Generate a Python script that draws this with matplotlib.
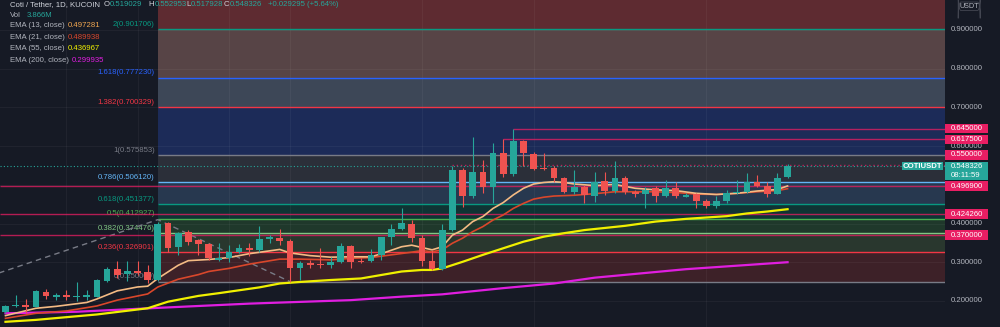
import matplotlib
matplotlib.use('Agg')
import matplotlib.pyplot as plt
import matplotlib.transforms as mtransforms
from matplotlib.patches import Rectangle, FancyBboxPatch

plt.rcParams['font.family'] = ['Liberation Sans', 'DejaVu Sans']

# --- datos: velas diarias COTI/USDT ---
opens = [0.172, 0.186, 0.189, 0.185, 0.223, 0.211, 0.214, 0.210, 0.211, 0.211,
         0.252, 0.282, 0.269, 0.278, 0.274, 0.254, 0.401, 0.340, 0.378, 0.357,
         0.346, 0.306, 0.310, 0.326, 0.338, 0.331, 0.359, 0.363, 0.356, 0.286,
         0.299, 0.295, 0.293, 0.300, 0.342, 0.304, 0.303, 0.319, 0.366, 0.385,
         0.400, 0.362, 0.303, 0.282, 0.383, 0.538, 0.472, 0.532, 0.495, 0.583,
         0.527, 0.613, 0.579, 0.544, 0.543, 0.517, 0.482, 0.495, 0.471, 0.511,
         0.485, 0.518, 0.481, 0.476, 0.491, 0.471, 0.493, 0.469, 0.476, 0.458,
         0.446, 0.459, 0.478, 0.482, 0.508, 0.498, 0.476, 0.519029]
highs = [0.190, 0.215, 0.204, 0.228, 0.230, 0.220, 0.228, 0.250, 0.228, 0.257,
         0.288, 0.302, 0.302, 0.302, 0.293, 0.405, 0.405, 0.378, 0.383, 0.360,
         0.350, 0.350, 0.344, 0.346, 0.349, 0.394, 0.370, 0.386, 0.360, 0.304,
         0.307, 0.337, 0.313, 0.349, 0.345, 0.310, 0.333, 0.366, 0.400, 0.439,
         0.408, 0.370, 0.332, 0.399, 0.549, 0.543, 0.623, 0.564, 0.607, 0.6175,
         0.645, 0.615, 0.586, 0.583, 0.549, 0.520, 0.538, 0.500, 0.532, 0.532,
         0.562, 0.523, 0.487, 0.494, 0.498, 0.512, 0.506, 0.480, 0.479, 0.463,
         0.471, 0.487, 0.512, 0.530, 0.525, 0.506, 0.530, 0.552953]
lows = [0.168, 0.184, 0.170, 0.183, 0.204, 0.202, 0.202, 0.200, 0.202, 0.209,
        0.250, 0.260, 0.252, 0.266, 0.246, 0.252, 0.327, 0.318, 0.345, 0.318,
        0.306, 0.302, 0.301, 0.323, 0.316, 0.327, 0.349, 0.345, 0.250, 0.254,
        0.286, 0.286, 0.286, 0.297, 0.284, 0.297, 0.301, 0.307, 0.345, 0.383,
        0.353, 0.291, 0.279, 0.279, 0.380, 0.442, 0.465, 0.480, 0.454, 0.521,
        0.524, 0.549, 0.538, 0.538, 0.508, 0.478, 0.476, 0.454, 0.456, 0.474,
        0.478, 0.476, 0.468, 0.439, 0.456, 0.468, 0.467, 0.468, 0.441, 0.439,
        0.439, 0.452, 0.476, 0.480, 0.495, 0.468, 0.475, 0.517928]
closes = [0.186, 0.189, 0.184, 0.226, 0.212, 0.216, 0.209, 0.212, 0.215, 0.255,
          0.282, 0.267, 0.278, 0.273, 0.254, 0.399, 0.337, 0.376, 0.353, 0.347,
          0.312, 0.312, 0.327, 0.338, 0.332, 0.360, 0.364, 0.355, 0.284, 0.299,
          0.293, 0.293, 0.301, 0.342, 0.301, 0.301, 0.318, 0.364, 0.385, 0.402,
          0.362, 0.304, 0.282, 0.383, 0.538, 0.472, 0.532, 0.495, 0.583, 0.528,
          0.613, 0.581, 0.541, 0.541, 0.517, 0.482, 0.494, 0.474, 0.508, 0.484,
          0.517, 0.481, 0.476, 0.487, 0.472, 0.493, 0.471, 0.473, 0.458, 0.446,
          0.459, 0.478, 0.482, 0.508, 0.498, 0.476, 0.517, 0.548326]

# medias móviles (índice de vela, valor)
ema13_idx = [0, 3, 5, 8, 9, 11, 13, 14, 15, 17, 18, 20, 22, 24, 27, 28, 30, 32, 34, 36,
             37, 38, 39, 40, 41, 42, 43, 44, 45, 46, 47, 48, 49, 50, 51, 52, 53, 54, 55,
             56, 57, 58, 60, 62, 64, 66, 68, 70, 72, 74, 76, 77]
ema13_val = [0.162, 0.181, 0.186, 0.196, 0.205, 0.226, 0.236, 0.238, 0.258, 0.292, 0.304,
             0.307, 0.312, 0.322, 0.333, 0.324, 0.317, 0.313, 0.314, 0.314, 0.322, 0.331,
             0.340, 0.344, 0.338, 0.332, 0.340, 0.370, 0.383, 0.405, 0.418, 0.439, 0.454,
             0.474, 0.491, 0.502, 0.506, 0.508, 0.506, 0.502, 0.500, 0.498, 0.501, 0.491,
             0.487, 0.485, 0.478, 0.475, 0.478, 0.484, 0.488, 0.497]
ema21_idx = [0, 3, 6, 9, 11, 14, 15, 17, 19, 20, 22, 24, 27, 29, 32, 34, 36, 38, 40, 41,
             42, 43, 44, 45, 46, 47, 48, 49, 50, 51, 52, 53, 54, 56, 58, 60, 62, 64, 66,
             68, 70, 72, 74, 76, 77]
ema21_val = [0.155, 0.168, 0.174, 0.187, 0.202, 0.218, 0.236, 0.256, 0.268, 0.276, 0.284,
             0.295, 0.308, 0.308, 0.306, 0.310, 0.312, 0.319, 0.326, 0.330, 0.327, 0.332,
             0.349, 0.362, 0.379, 0.392, 0.409, 0.422, 0.439, 0.452, 0.463, 0.468, 0.471,
             0.473, 0.477, 0.482, 0.482, 0.482, 0.480, 0.476, 0.475, 0.478, 0.482, 0.485,
             0.490]
ema55_idx = [0, 3, 6, 9, 14, 16, 19, 21, 25, 27, 29, 32, 35, 37, 39, 41, 42, 43, 45, 47,
             49, 51, 53, 55, 57, 61, 64, 67, 71, 73, 75, 77]
ema55_val = [0.146, 0.151, 0.158, 0.165, 0.181, 0.198, 0.213, 0.220, 0.235, 0.245, 0.249,
             0.254, 0.258, 0.267, 0.276, 0.280, 0.280, 0.284, 0.301, 0.319, 0.336, 0.353,
             0.366, 0.375, 0.383, 0.394, 0.405, 0.412, 0.419, 0.426, 0.431, 0.437]
ema200_idx = [0, 7, 15, 24, 34, 39, 43, 49, 54, 58, 67, 77]
ema200_val = [0.168, 0.172, 0.182, 0.193, 0.202, 0.211, 0.217, 0.233, 0.245, 0.260, 0.282,
              0.300]
ema_legend = ['0.497281', '0.489938', '0.436967', '0.299935']

# extensión de Fibonacci
fib_ratios = [0, 0.236, 0.382, 0.5, 0.618, 0.786, 1, 1.382, 1.618, 2]
fib_prices = [0.25, 0.326901, 0.374476, 0.412927, 0.451377, 0.50612, 0.575853,
              0.700329, 0.77723, 0.901706]
fib_start = 15
trend_idx = [-22, 15, 28]
trend_price = [0.084, 0.41, 0.25]

# líneas horizontales (rayos) y precio actual
ray_prices = [0.645, 0.6175, 0.55, 0.4969, 0.42426, 0.37]
ray_start = [50, 49, 44, None, None, None]
last_price = 0.548326
change_txt = '+0.029295 (+5.64%)'
volume_txt = '3.866M'
countdown = '08:11:59'
price_ticks = [0.2, 0.3, 0.4, 0.5, 0.6, 0.7, 0.8, 0.9]
time_grid = [6, 13, 22, 28, 41, 52, 69]   # velas con línea vertical de rejilla

# --- estilo ---
BG = '#161a25'
UP, DOWN = '#26a69a', '#ef5350'
PINK = '#e91e63'
TXT = '#b2b5be'
FS = 5.6
fib_line_colors = ['#787b86', '#f23645', '#81c784', '#4caf50', '#089981', '#64b5f6',
                   '#787b86', '#f23645', '#2962ff', '#089981']
zone_colors = ['#3d2128', '#29372e', '#1f382b', '#0f3434', '#27384f', '#2b2f39',
               '#1c2b58', '#3d4757', '#574446', '#5e2b31']

X_LEFT, X_RIGHT = -0.54, 92.5
Y_LOW, Y_HIGH = 0.1326, 0.9775

fig = plt.figure(figsize=(10, 3.27), dpi=100, facecolor=BG)
ax = fig.add_axes([0, 0, 0.945, 1], facecolor=BG)
ax2 = fig.add_axes([0.945, 0, 0.055, 1], facecolor=BG)
for a in (ax, ax2):
    a.set_ylim(Y_LOW, Y_HIGH)
    a.set_xticks([])
    a.set_yticks([])
    for s in a.spines.values():
        s.set_visible(False)
ax.set_xlim(X_LEFT, X_RIGHT)
ax2.set_xlim(0, 1)

# rejilla
for t in price_ticks:
    ax.axhline(t, color='#ffffff', alpha=0.045, lw=0.8, zorder=1)
for gx in time_grid:
    ax.axvline(gx, color='#ffffff', alpha=0.045, lw=0.8, zorder=1)

# zonas de Fibonacci
zone_edges = fib_prices + [Y_HIGH + 0.1]
for k in range(len(zone_colors)):
    ax.fill_between([fib_start, X_RIGHT], zone_edges[k], zone_edges[k + 1],
                    color=zone_colors[k], lw=0, zorder=0.5)
for r, p, c in zip(fib_ratios, fib_prices, fib_line_colors):
    ax.hlines(p, fib_start, X_RIGHT, color=c, lw=1.0, zorder=2)
    ax.annotate(f'{r:g}({p:.6f})', xy=(fib_start, p), xytext=(-2.2, 0.8),
                textcoords='offset points', ha='right', va='bottom',
                fontsize=FS, color=c, zorder=2)
ax.plot(trend_idx, trend_price, color='#787b86', lw=1, ls=(0, (4, 3)), zorder=2)

# rayos horizontales
ax.hlines(last_price, X_LEFT, X_RIGHT, color=UP, lw=0.8, ls=(0, (1, 2)), zorder=2)
for p, s in zip(ray_prices, ray_start):
    x0 = X_LEFT if s is None else s
    ls = (0, (1, 2)) if p == 0.55 else '-'
    ax.hlines(p, x0, X_RIGHT, color=PINK, lw=1.0, alpha=0.75, ls=ls, zorder=2.1)

# medias
ax.plot(ema200_idx, ema200_val, color='#e01ee0', lw=1.6, zorder=3)
ax.plot(ema55_idx, ema55_val, color='#f0f000', lw=1.6, zorder=3)
ax.plot(ema21_idx, ema21_val, color='#d9472b', lw=1.2, zorder=3.1)
ax.plot(ema13_idx, ema13_val, color='#f4bb84', lw=1.2, zorder=3.2)

# velas
for i, (o, h, l, c) in enumerate(zip(opens, highs, lows, closes)):
    col = UP if c >= o else DOWN
    ax.vlines(i, l, h, color=col, lw=0.8, zorder=4)
    ax.bar(i, max(abs(c - o), 0.0025), bottom=min(o, c), width=0.66,
           color=col, lw=0, zorder=4.1)

# escala de precios
blend = mtransforms.blended_transform_factory(ax2.transAxes, ax2.transData)
for t in price_ticks:
    ax2.text(0.11, t, f'{t:.6f}', transform=blend, va='center', ha='left',
             fontsize=FS, color=TXT, zorder=1)

px_per_price = 327 / (Y_HIGH - Y_LOW)
box_h = 9.5 / px_per_price
teal_top = last_price + 4.6 / px_per_price
# caja del precio actual (dos líneas)
ax2.add_patch(Rectangle((0, last_price - 13.8 / px_per_price), 0.78, 18.4 / px_per_price,
                        transform=blend, color=UP, lw=0, zorder=3))
ax2.text(0.11, last_price, f'{last_price:.6f}', transform=blend, va='center',
         ha='left', fontsize=FS, color='white', zorder=4)
ax2.text(0.11, last_price - 9.2 / px_per_price, countdown, transform=blend,
         va='center', ha='left', fontsize=FS, color='white', zorder=4)
blend_main = mtransforms.blended_transform_factory(ax.transAxes, ax.transData)
ax.add_patch(Rectangle((0.954, last_price - 4.2 / px_per_price), 0.044, 8.6 / px_per_price,
                       transform=blend_main, color=UP, lw=0, zorder=6, clip_on=False))
ax.text(0.976, last_price, 'COTIUSDT', transform=blend_main, va='center', ha='center',
        fontsize=5.6, color='white', zorder=7, fontweight='bold')

# etiquetas rosas: se desplazan si chocan con la caja del precio actual
for p in ray_prices:
    yc = p
    if abs(p - last_price) * px_per_price < 14:
        yc = teal_top + 2 / px_per_price + box_h / 2
    ax2.add_patch(Rectangle((0, yc - box_h / 2), 0.78, box_h, transform=blend,
                            color=PINK, lw=0, zorder=3))
    ax2.text(0.11, yc, f'{p:.6f}', transform=blend, va='center', ha='left',
             fontsize=FS, color='white', zorder=4)

ax2.add_patch(FancyBboxPatch((0.24, 1 - 10.5 / 327), 0.4, 8.5 / 327,
                             boxstyle='round,pad=0,rounding_size=0.05',
                             transform=ax2.transAxes, fc=BG, ec='#434651', lw=0.6))
ax2.text(0.44, 1 - 6.2 / 327, 'USDT', transform=ax2.transAxes, ha='center',
         va='center', fontsize=5.2, color=TXT)

# leyenda superior izquierda
def ftext(x, y, s, c):
    fig.text(x / 1000, 1 - y / 327, s, color=c, fontsize=FS, va='center', ha='left')

ftext(10, 5, 'Coti / Tether, 1D, KUCOIN', '#d1d4dc')
ohlc = [('O', opens[-1], 103.5, 6.4), ('H', highs[-1], 148.5, 6.1),
        ('L', lows[-1], 186, 4.7), ('C', closes[-1], 224, 5.9)]
for lab, v, x, w in ohlc:
    ftext(x, 5, lab, '#d1d4dc')
    ftext(x + w, 5, f'{v:.6f}', UP)
ftext(268, 5, change_txt, UP)
ftext(10, 15.5, 'Vol', TXT)
ftext(27, 15.5, volume_txt, UP)
ema_rows = [('EMA (13, close)', '#f0a650', 25.7, 68),
            ('EMA (21, close)', '#d9472b', 37.3, 68),
            ('EMA (55, close)', '#f0f000', 49.0, 68),
            ('EMA (200, close)', '#e01ee0', 60.7, 72)]
for (name, c, y, xv), txt in zip(ema_rows, ema_legend):
    ftext(10, y, name, TXT)
    ftext(xv, y, txt, c)

fig.savefig('out.png', dpi=100, facecolor=BG)
